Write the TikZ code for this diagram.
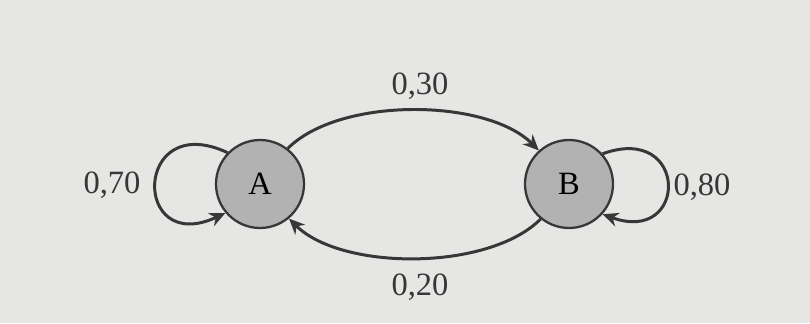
\documentclass[tikz,border=0pt]{standalone}
\usepackage{fontspec}
\setmainfont{Liberation Serif}
\usepackage{tikz}
\usetikzlibrary{arrows.meta, positioning}
\definecolor{paper}{RGB}{230,230,228}
\definecolor{ink}{RGB}{55,55,55}

\begin{document}
\begin{tikzpicture}[>={Stealth[length=9pt,width=8pt]},
    state/.style={circle, draw=ink, line width=1.3pt, fill=black!30, minimum size=1.76cm, inner sep=0pt, font=\fontsize{18.5}{22}\selectfont},
    trans/.style={->, draw=ink, line width=1.7pt},
    prob/.style={text=ink, inner sep=1pt, font=\fontsize{18.5}{22}\selectfont}]
    % Paper and margins
    \fill[paper] (0,0) rectangle (16.2,6.46);
    \useasboundingbox (0,0) rectangle (16.2,6.46);

    % States
    \node[state] (A) at (5.2,2.78) {A};
    \node[state] (B) at (11.38,2.78) {B};

    % Transitions between states
    \draw[trans] (A.52) to[out=45, in=135, looseness=0.75] (B.132);
    \draw[trans] (B.-129) to[out=-135, in=-45, looseness=0.75] (A.-50);

    % Self loops
    \draw[trans] (A.136) to[out=155, in=205, looseness=4.4] (A.220);
    \draw[trans] (B.42) to[out=20, in=-20, looseness=3.9] (B.-42);

    % Probabilities
    \node[prob] (pAB) at (8.4,4.74) {0,30};
    \node[prob] (pBA) at (8.4,0.72) {0,20};
    \node[prob] (pAA) at (2.24,2.76) {0,70};
    \node[prob] (pBB) at (14.04,2.72) {0,80};
\end{tikzpicture}
\end{document}
